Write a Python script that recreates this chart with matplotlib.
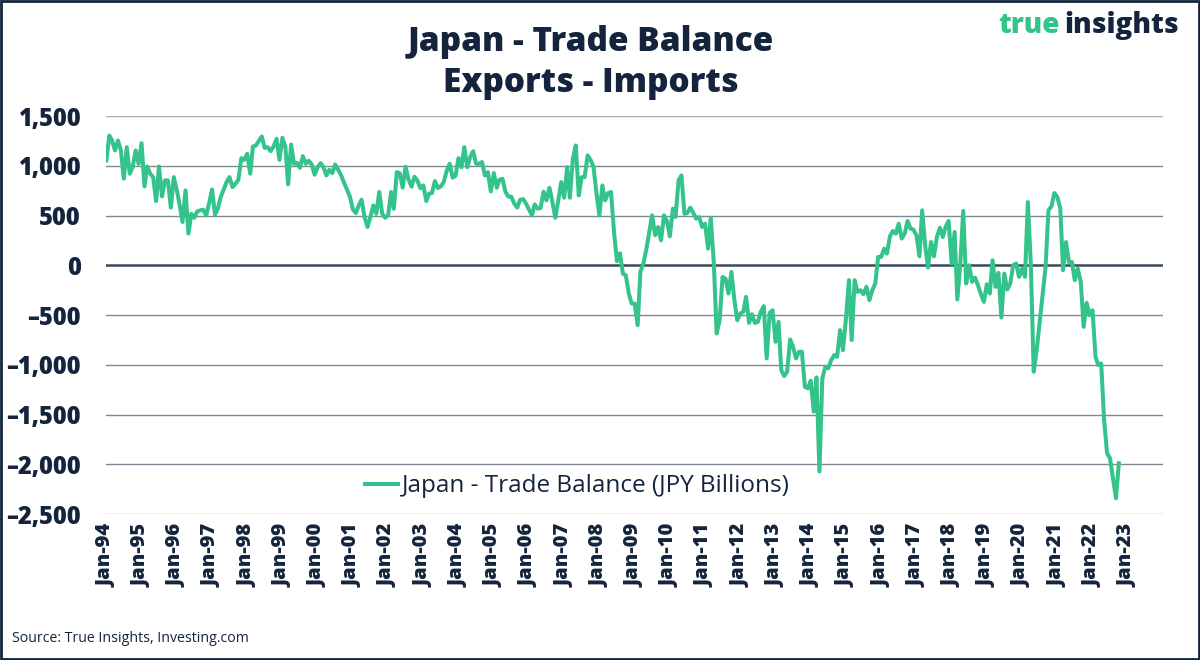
import numpy as np
import pandas as pd
import matplotlib
matplotlib.use("Agg")
import matplotlib.pyplot as plt
import matplotlib.dates as mdates
from matplotlib.ticker import FuncFormatter, MultipleLocator
from matplotlib.patches import Rectangle

# monthly trade balance, JPY billions
y1994 = [1053, 1304, 1254, 1154, 1254, 1154, 870, 1187, 920, 986, 1154, 1020]
y1995 = [1227, 793, 993, 920, 886, 645, 993, 692, 853, 853, 579, 886]
y1996 = [759, 602, 435, 752, 318, 518, 478, 542, 552, 558, 502, 619]
y1997 = [762, 508, 568, 686, 760, 836, 886, 786, 820, 859, 1077, 1060]
y1998 = [1120, 920, 1194, 1204, 1250, 1294, 1180, 1187, 1147, 1194, 1271, 1060]
y1999 = [1281, 1187, 813, 1214, 1020, 1030, 980, 1097, 1020, 1050, 1013, 910]
y2000 = [986, 1027, 986, 903, 960, 926, 1013, 960, 903, 830, 760, 690]
y2001 = [560, 525, 600, 659, 485, 385, 485, 602, 518, 736, 518, 478]
y2002 = [502, 736, 568, 936, 926, 780, 990, 860, 790, 890, 850, 775]
y2003 = [803, 645, 719, 726, 846, 776, 793, 836, 950, 1020, 880, 900]
y2004 = [1077, 986, 1187, 986, 1087, 1147, 1020, 1020, 1037, 903, 936, 742]
y2005 = [926, 779, 860, 869, 740, 690, 690, 620, 580, 659, 665, 620]
y2006 = [560, 502, 612, 570, 575, 740, 652, 779, 635, 478, 652, 836]
y2007 = [679, 986, 679, 1070, 1204, 702, 886, 886, 1104, 1060, 990, 730]
y2008 = [502, 803, 652, 726, 736, 330, 40, 120, -84, -100, -284, -385]
y2009 = [-385, -602, -67, 17, 157, 334, 502, 301, 385, 251, 502, 445]
y2010 = [291, 569, 485, 853, 903, 518, 525, 579, 525, 468, 485, 385]
y2011 = [418, 167, 478, 33, -686, -552, -117, -134, -284, -67, -351, -552]
y2012 = [-485, -468, -318, -579, -492, -579, -569, -468, -411, -936, -478, -452]
y2013 = [-769, -569, -1053, -1114, -1070, -746, -819, -936, -869, -869, -1221, -1237]
y2014 = [-1160, -1471, -1127, -2073, -1137, -1020, -1037, -953, -903, -920, -652, -853]
y2015 = [-535, -150, -752, -150, -268, -251, -291, -217, -351, -251, -184, 84]
y2016 = [84, 167, 117, 291, 344, 318, 418, 268, 318, 445, 368, 358]
y2017 = [301, 90, 552, 201, -23, 234, 90, 284, 378, 284, 391, 445]
y2018 = [17, 334, -344, 17, 545, -184, 0, -167, -124, -201, -291, -368]
y2019 = [-191, -284, 50, -217, -77, -525, -84, -244, -184, 0, 17, -117]
y2020 = [-33, -117, 635, 17, -1070, -853, -585, -300, -17, 552, 592, 726]
y2021 = [686, 569, -50, 234, 33, 33, -150, -33, -167, -619, -378, -502]
y2022 = [-452, -920, -1003, -987, -1555, -1889, -1940, -2140, -2341, -1990]

balance = (y1994 + y1995 + y1996 + y1997 + y1998 + y1999 + y2000 + y2001 + y2002 + y2003
           + y2004 + y2005 + y2006 + y2007 + y2008 + y2009 + y2010 + y2011 + y2012 + y2013
           + y2014 + y2015 + y2016 + y2017 + y2018 + y2019 + y2020 + y2021 + y2022)
months = pd.date_range("1994-01-01", periods=len(balance), freq="MS")

NAVY = "#14243c"
GREEN = "#34c48b"
GRID = "#7d8796"

plt.rcParams["font.family"] = ["Open Sans", "DejaVu Sans"]
HEAVY = 800

fig = plt.figure(figsize=(12, 6.6), dpi=100)
ax = fig.add_axes([0.0883, 0.2212, 0.8808, 0.6030])

ax.plot(months, balance, color=GREEN, lw=2.9, solid_joinstyle="round",
        label="Japan - Trade Balance (JPY Billions)", zorder=3)

ax.set_ylim(-2500, 1500)
ax.yaxis.set_major_locator(MultipleLocator(500))
ax.yaxis.set_major_formatter(FuncFormatter(lambda v, p: f"{int(v):,}".replace("-", "\u2013")))
ax.set_xlim(pd.Timestamp("1993-12-28"), pd.Timestamp("2024-01-01"))
ax.set_xticks(pd.date_range("1994-01-01", "2023-01-01", freq="YS"))
ax.xaxis.set_major_formatter(mdates.DateFormatter("%b-%y"))

for v in range(-2500, 1501, 500):
    if v == 0:
        ax.axhline(v, color="#3b4a5e", lw=1.8, zorder=2)
    elif v in (-2500, 1500):
        ax.axhline(v, color="#a3abb7", lw=1.0, zorder=1)
    else:
        ax.axhline(v, color=GRID, lw=1.0, zorder=1)

for s in ax.spines.values():
    s.set_visible(False)
ax.tick_params(axis="both", length=0)
ax.tick_params(axis="y", pad=18, labelsize=17, labelcolor=NAVY)
ax.tick_params(axis="x", pad=7, labelsize=14.5, labelcolor=NAVY, labelrotation=90)
for lab in ax.get_yticklabels() + ax.get_xticklabels():
    lab.set_fontweight(HEAVY)

leg = ax.legend(loc="center", bbox_to_anchor=(0.446, 0.07), frameon=False,
                fontsize=17.5, handlelength=1.35, handletextpad=0.15)
for t in leg.get_texts():
    t.set_color(NAVY)

fig.text(0.492, 0.905, "Japan - Trade Balance\nExports - Imports", ha="center", va="center",
         fontsize=24, fontweight=HEAVY, color=NAVY, linespacing=1.25)

fig.text(0.883, 0.962, "true", ha="right", va="center", fontsize=20, fontweight=HEAVY, color=GREEN)
fig.text(0.982, 0.962, "insights", ha="right", va="center", fontsize=20, fontweight=HEAVY, color=NAVY)

fig.text(0.01, 0.033, "Source: True Insights, Investing.com", ha="left", va="center",
         fontsize=10.2, color=NAVY)

fig.patches.append(Rectangle((0.001, 0.001), 0.998, 0.997, transform=fig.transFigure,
                             fill=False, edgecolor=NAVY, lw=2))

fig.savefig("out.png", dpi=100, facecolor="white")
